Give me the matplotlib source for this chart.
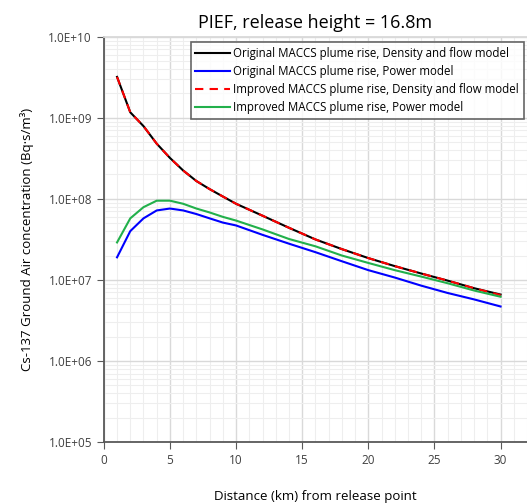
import numpy as np
import matplotlib.pyplot as plt
from matplotlib.ticker import FixedLocator, LogLocator, NullFormatter, FuncFormatter

plt.rcParams['font.family'] = ['Open Sans', 'DejaVu Sans']

distance = [1, 2, 3, 4, 5, 6, 7, 8, 9, 10, 12, 14, 16, 18, 20, 22, 24, 26, 28, 30]

orig_density = [3.2e9, 1.17e9, 7.9e8, 4.8e8, 3.2e8, 2.24e8, 1.66e8, 1.32e8, 1.07e8, 8.7e7,
                6.2e7, 4.4e7, 3.16e7, 2.4e7, 1.86e7, 1.48e7, 1.2e7, 9.8e6, 7.9e6, 6.6e6]
orig_power = [1.9e7, 4.0e7, 5.75e7, 7.2e7, 7.6e7, 7.2e7, 6.5e7, 5.75e7, 5.1e7, 4.7e7,
              3.6e7, 2.8e7, 2.2e7, 1.7e7, 1.32e7, 1.07e7, 8.5e6, 6.9e6, 5.75e6, 4.7e6]
impr_density = [3.2e9, 1.17e9, 7.9e8, 4.8e8, 3.2e8, 2.24e8, 1.66e8, 1.32e8, 1.07e8, 8.7e7,
                6.2e7, 4.4e7, 3.16e7, 2.4e7, 1.86e7, 1.48e7, 1.2e7, 9.8e6, 7.9e6, 6.5e6]
impr_power = [2.9e7, 5.75e7, 7.9e7, 9.5e7, 9.5e7, 8.7e7, 7.6e7, 6.8e7, 6.0e7, 5.4e7,
              4.2e7, 3.2e7, 2.6e7, 2.0e7, 1.62e7, 1.32e7, 1.1e7, 9.1e6, 7.4e6, 6.2e6]

labels = ['Original MACCS plume rise, Density and flow model',
          'Original MACCS plume rise, Power model',
          'Improved MACCS plume rise, Density and flow model',
          'Improved MACCS plume rise, Power model']

fig = plt.figure(figsize=(5.27, 5.04), dpi=100)
ax = fig.add_axes([0.197, 0.123, 0.803, 0.804])

ax.plot(distance, orig_density, color='black', lw=1.5, label=labels[0])
ax.plot(distance, orig_power, color='#0000ff', lw=1.5, label=labels[1])
ax.plot(distance, impr_density, color='#ff0000', lw=1.5, ls=(0, (4, 3)), label=labels[2])
ax.plot(distance, impr_power, color='#22b04b', lw=1.5, label=labels[3])

ax.set_yscale('log')
ax.set_ylim(1e5, 1e10)
ax.set_xlim(0, 32)

ax.xaxis.set_major_locator(FixedLocator([0, 5, 10, 15, 20, 25, 30]))
ax.xaxis.set_minor_locator(FixedLocator(np.arange(0, 33, 1)))
ax.yaxis.set_major_locator(LogLocator(base=10, numticks=10))
ax.yaxis.set_minor_locator(LogLocator(base=10, subs=np.arange(2, 10), numticks=20))
ax.yaxis.set_minor_formatter(NullFormatter())
ax.yaxis.set_major_formatter(FuncFormatter(lambda v, p: '1.0E+%02d' % round(np.log10(v))))

ax.grid(True, which='major', color='#d9d9d9', lw=1)
ax.grid(True, which='minor', color='#eeeeee', lw=0.8)
ax.set_axisbelow(True)

for s in ['left', 'bottom', 'top']:
    ax.spines[s].set_color('#595959')
    ax.spines[s].set_linewidth(1.3)
ax.spines['top'].set_color('#d9d9d9')
ax.spines['right'].set_visible(False)
ax.tick_params(which='major', direction='out', length=5, color='#595959', labelsize=8.5, labelcolor='#404040')
ax.tick_params(which='minor', length=0)

ax.set_title('PIEF, release height = 16.8m', fontsize=13, pad=6)
ax.set_xlabel('Distance (km) from release point', fontsize=9.5, labelpad=17)
ax.set_ylabel('Cs-137 Ground Air concentration (Bq·s/m³)', fontsize=9.5, labelpad=10)

leg = ax.legend(loc='upper right', bbox_to_anchor=(0.998, 0.993), fontsize=8.3, frameon=True,
                fancybox=False, edgecolor='#404040', handlelength=3, borderaxespad=0.2,
                labelspacing=0.45, handletextpad=0.3)
leg.get_frame().set_linewidth(1.2)

fig.savefig('out.png', dpi=100)
